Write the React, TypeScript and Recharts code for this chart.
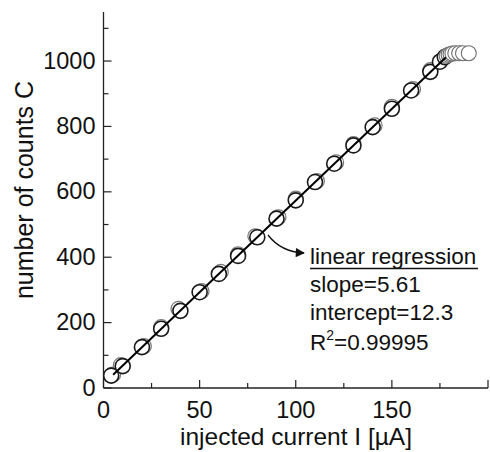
import React from 'react';
import { ScatterChart, Scatter, XAxis, YAxis } from 'recharts';

// measured counts vs injected current (two runs + saturated points)
const runACurrent = [4, 10, 20, 30, 40, 50, 60, 70, 80, 90, 100, 110, 120, 130, 140, 150, 160, 170, 175, 177.5];
const runACounts = [38, 67, 125, 181, 236, 293, 349, 404, 461, 518, 574, 630, 686, 742, 798, 854, 910, 967, 998, 1012];
const runBCurrent = [5, 9, 21, 30, 39, 51, 61, 70, 79, 91, 100, 111, 121, 130, 141, 150, 161, 170];
const runBCounts = [41, 70, 128, 186, 242, 296, 355, 409, 464, 522, 579, 633, 690, 746, 803, 860, 914, 972];
const satCurrent = [178.5, 179.5, 180.5, 181.5, 183, 185, 187, 190];
const satCounts = [1016, 1019, 1021, 1023, 1024, 1024, 1024, 1024];
const fitCurrent = [5, 178];
const fitCounts = [40.4, 1010.9];

const xTicks = [0, 25, 50, 75, 100, 125, 150, 175, 200];
const xLabels = [0, 50, 100, 150];
const yTicks = [0, 100, 200, 300, 400, 500, 600, 700, 800, 900, 1000, 1100];
const yLabels = [0, 200, 400, 600, 800, 1000];

const FONT = '"Liberation Sans", Arial, sans-serif';
const INK = '#111111';
const FRAME = '#222222';

const zip = (xs: number[], ys: number[]) => xs.map((x, i) => ({ x, y: ys[i] }));

const runA = zip(runACurrent, runACounts);
const runB = zip(runBCurrent, runBCounts);
const sat = zip(satCurrent, satCounts);
const fit = zip(fitCurrent, fitCounts);

const ring = (stroke: string, width: number) => (p: any) => (
    <circle cx={p.cx} cy={p.cy} r={7.5} fill="#fff" stroke={stroke} strokeWidth={width} />
);

// ticks point inward, labels only on bottom/left
const BottomTick = (p: any) => {
    const v = p.payload.value;
    const major = v % 50 === 0;
    return (
        <g>
            <line x1={p.x} y1={p.y} x2={p.x} y2={p.y - (major ? 8 : 5)} stroke={FRAME} strokeWidth={1.2} />
            {xLabels.includes(v) && (
                <text x={p.x} y={p.y + 30} textAnchor="middle" fontSize={23.5} fontFamily={FONT} fill={INK}>
                    {v}
                </text>
            )}
        </g>
    );
};

const TopTick = (p: any) => {
    const major = p.payload.value % 50 === 0;
    return <line x1={p.x} y1={p.y} x2={p.x} y2={p.y + (major ? 8 : 5)} stroke={FRAME} strokeWidth={1.2} />;
};

const LeftTick = (p: any) => {
    const v = p.payload.value;
    const major = v % 200 === 0;
    return (
        <g>
            <line x1={p.x} y1={p.y} x2={p.x + (major ? 8 : 5)} y2={p.y} stroke={FRAME} strokeWidth={1.2} />
            {yLabels.includes(v) && (
                <text x={p.x - 8} y={p.y + 7.5} textAnchor="end" fontSize={23.5} fontFamily={FONT} fill={INK}>
                    {v}
                </text>
            )}
        </g>
    );
};

const RightTick = (p: any) => {
    const major = p.payload.value % 200 === 0;
    return <line x1={p.x} y1={p.y} x2={p.x - (major ? 8 : 5)} y2={p.y} stroke={FRAME} strokeWidth={1.2} />;
};

export default function App() {
    return (
        <div style={{ position: 'absolute', left: 0, top: 0, width: 490, height: 452, background: '#fff' }}>
            <ScatterChart width={490} height={452} margin={{ top: 12, right: 2, left: 0, bottom: 0 }}>
                <XAxis
                    xAxisId="b"
                    type="number"
                    dataKey="x"
                    domain={[0, 200]}
                    ticks={xTicks}
                    interval={0}
                    height={64}
                    tickSize={0}
                    tickMargin={0}
                    tickLine={false}
                    axisLine={{ stroke: FRAME, strokeWidth: 1.3 }}
                    tick={BottomTick}
                />
                <XAxis
                    xAxisId="t"
                    orientation="top"
                    type="number"
                    dataKey="x"
                    domain={[0, 200]}
                    ticks={xTicks}
                    interval={0}
                    height={0}
                    tickSize={0}
                    tickMargin={0}
                    tickLine={false}
                    axisLine={{ stroke: FRAME, strokeWidth: 1.3 }}
                    tick={TopTick}
                />
                <YAxis
                    yAxisId="l"
                    type="number"
                    dataKey="y"
                    domain={[0, 1150]}
                    ticks={yTicks}
                    interval={0}
                    width={103.5}
                    tickSize={0}
                    tickMargin={0}
                    tickLine={false}
                    axisLine={{ stroke: FRAME, strokeWidth: 1.3 }}
                    tick={LeftTick}
                />
                <YAxis
                    yAxisId="r"
                    orientation="right"
                    type="number"
                    dataKey="y"
                    domain={[0, 1150]}
                    ticks={yTicks}
                    interval={0}
                    width={0}
                    tickSize={0}
                    tickMargin={0}
                    tickLine={false}
                    axisLine={{ stroke: FRAME, strokeWidth: 1.3 }}
                    tick={RightTick}
                />
                <Scatter xAxisId="b" yAxisId="l" data={runB} shape={ring('#7a7a7a', 1.2)} isAnimationActive={false} />
                <Scatter xAxisId="b" yAxisId="l" data={runA} shape={ring('#1a1a1a', 1.6)} isAnimationActive={false} />
                <Scatter xAxisId="b" yAxisId="l" data={sat} shape={ring('#6e6e6e', 1.1)} isAnimationActive={false} />
                <Scatter
                    xAxisId="b"
                    yAxisId="l"
                    data={fit}
                    line={{ stroke: '#000', strokeWidth: 2 }}
                    shape={() => null}
                    isAnimationActive={false}
                />
            </ScatterChart>
            <svg width={490} height={452} style={{ position: 'absolute', left: 0, top: 0, pointerEvents: 'none' }}>
                <defs>
                    <marker id="ah" viewBox="0 0 10 10" refX="9" refY="5" markerWidth="8" markerHeight="7" orient="auto">
                        <path d="M0,0 L10,5 L0,10 z" fill="#111" />
                    </marker>
                </defs>
                <path d="M268,235 Q281,252 304,253" fill="none" stroke="#111" strokeWidth={1.3} markerEnd="url(#ah)" />
                <g fontFamily={FONT} fontSize={22.5} fill={INK}>
                    <text x={310} y={264}>linear regression</text>
                    <line x1={310} y1={268.5} x2={478} y2={268.5} stroke={INK} strokeWidth={1.4} />
                    <text x={310} y={292}>slope=5.61</text>
                    <text x={310} y={320}>intercept=12.3</text>
                    <text x={310} y={350}>
                        R<tspan fontSize={14} dy={-10}>2</tspan>
                        <tspan dy={10}>=0.99995</tspan>
                    </text>
                </g>
                <text x={296} y={445} textAnchor="middle" fontFamily={FONT} fontSize={24.5} fill={INK}>
                    injected current I [µA]
                </text>
                <text
                    transform="translate(33,190) rotate(-90)"
                    textAnchor="middle"
                    fontFamily={FONT}
                    fontSize={25}
                    fill={INK}
                >
                    number of counts C
                </text>
            </svg>
        </div>
    );
}
